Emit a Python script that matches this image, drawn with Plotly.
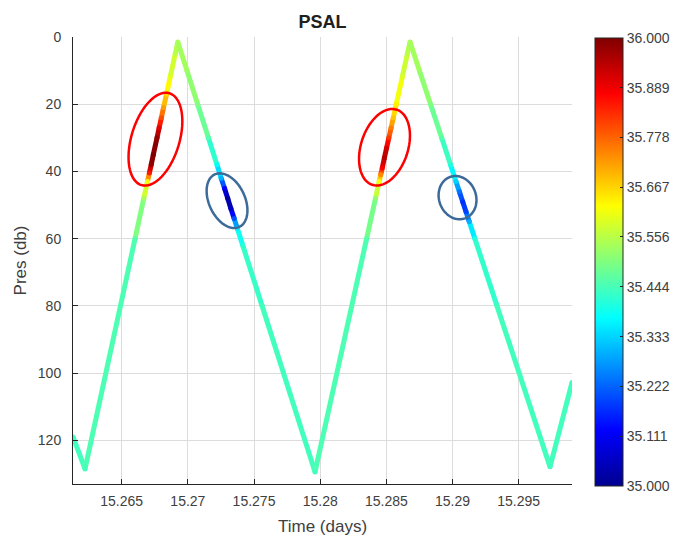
import numpy as np
import plotly.graph_objects as go
from plotly.colors import sample_colorscale

# Perfil: tempo (dias), pressão (db), salinidade (PSAL)
time_days = [
    15.26132, 15.26223,
    15.26601, 15.26667, 15.26695, 15.26709, 15.26723, 15.26739, 15.26767,
    15.26783, 15.26800, 15.26816, 15.26839, 15.26866, 15.26905, 15.26924,
    15.26993, 15.27074, 15.27155, 15.27220, 15.27252, 15.27277, 15.27301,
    15.27325, 15.27350, 15.27374, 15.27415, 15.27561, 15.27961,
    15.28351, 15.28418, 15.28446, 15.28457, 15.28469, 15.28485, 15.28502,
    15.28519, 15.28536, 15.28553, 15.28575, 15.28620, 15.28659, 15.28679,
    15.28750, 15.28834, 15.28918, 15.28985, 15.29026, 15.29052, 15.29077,
    15.29102, 15.29127, 15.29169, 15.29336, 15.29737, 15.29903,
]
pres_db = [
    119.0, 128.5,
    60.0, 48.0, 43.0, 40.5, 38.0, 35.0, 30.0,
    27.0, 24.0, 21.0, 17.0, 12.0, 5.0, 1.5,
    10.0, 20.0, 30.0, 38.0, 42.0, 45.0, 48.0,
    51.0, 54.0, 57.0, 62.0, 80.0, 129.4,
    60.0, 48.0, 43.0, 41.0, 39.0, 36.0, 33.0,
    30.0, 27.0, 24.0, 20.0, 12.0, 5.0, 1.5,
    10.0, 20.0, 30.0, 38.0, 43.0, 46.0, 49.0,
    52.0, 55.0, 60.0, 80.0, 127.9, 102.8,
]
psal = [
    35.44, 35.44,
    35.46, 35.54, 35.62, 35.85, 35.98, 36.00, 35.98,
    35.90, 35.80, 35.72, 35.66, 35.60, 35.56, 35.54,
    35.53, 35.50, 35.46, 35.38, 35.30, 35.12, 35.02,
    35.06, 35.20, 35.36, 35.42, 35.44, 35.44,
    35.46, 35.52, 35.62, 35.74, 35.88, 35.95, 35.92,
    35.82, 35.75, 35.68, 35.64, 35.59, 35.56, 35.54,
    35.53, 35.50, 35.46, 35.41, 35.33, 35.24, 35.17,
    35.19, 35.30, 35.41, 35.44, 35.44, 35.44,
]

x_tick_vals = [15.265, 15.27, 15.275, 15.28, 15.285, 15.29, 15.295]
x_tick_text = ["15.265", "15.27", "15.275", "15.28", "15.285", "15.29", "15.295"]
y_tick_vals = [0, 20, 40, 60, 80, 100, 120]
cb_tick_vals = [35.0, 35.111, 35.222, 35.333, 35.444, 35.556, 35.667, 35.778, 35.889, 36.0]
cb_tick_text = ["35.000", "35.111", "35.222", "35.333", "35.444",
                "35.556", "35.667", "35.778", "35.889", "36.000"]

# Elipses de destaque (centro em dados, semi-eixos em px, inclinação em graus)
ell_t = [15.26755, 15.27296, 15.28486, 15.29038]
ell_p = [30.4, 48.7, 32.8, 47.8]
ell_a = [48, 29, 39.5, 22]
ell_b = [24, 18, 23.5, 18.5]
ell_ang = [17, -25, 18, -20]
ell_col = ["#ff0000", "#3d6b99", "#ff0000", "#3d6b99"]

jet = [[0.0, "rgb(0,0,143)"], [0.125, "rgb(0,0,255)"], [0.375, "rgb(0,255,255)"],
       [0.625, "rgb(255,255,0)"], [0.875, "rgb(255,0,0)"], [1.0, "rgb(128,0,0)"]]
c_min, c_max = 35.0, 36.0
p_max = 133
W, H = 679, 543
margin = dict(l=73, r=107, t=37, b=59)
axis_col = "#262626"
font_fam = "Liberation Sans, Arial, sans-serif"

fig = go.Figure()

# Linha colorida: um segmento por par de pontos
for i in range(len(time_days) - 1):
    s_mid = (psal[i] + psal[i + 1]) / 2
    col = sample_colorscale(jet, [(s_mid - c_min) / (c_max - c_min)])[0]
    fig.add_trace(go.Scatter(
        x=time_days[i:i + 2], y=pres_db[i:i + 2], mode="lines",
        line=dict(color=col, width=5), hoverinfo="skip", showlegend=False))

# Vértices + barra de cores (x em coordenadas de container, sem empurrar margens)
fig.add_trace(go.Scatter(
    x=time_days, y=pres_db, mode="markers", showlegend=False,
    marker=dict(size=5, color=psal, colorscale=jet, cmin=c_min, cmax=c_max,
                line=dict(width=0),
                colorbar=dict(xref="container", x=595 / W, xanchor="left", xpad=0,
                              thickness=28, len=448, lenmode="pixels",
                              y=0.998, yanchor="top", ypad=0,
                              tickvals=cb_tick_vals, ticktext=cb_tick_text,
                              ticks="inside", ticklen=3, tickcolor=axis_col,
                              outlinecolor=axis_col, outlinewidth=1,
                              tickfont=dict(size=14, color="#404040"))),
))

# Elipses
plot_w = W - margin["l"] - margin["r"]
plot_h = H - margin["t"] - margin["b"]
px_t = plot_w / (max(time_days) - min(time_days))
px_p = plot_h / p_max
s = np.linspace(0, 2 * np.pi, 73)
for tc, pc, a, b, ang, col in zip(ell_t, ell_p, ell_a, ell_b, ell_ang, ell_col):
    th = np.radians(ang)
    dx = a * np.cos(s) * np.sin(th) + b * np.sin(s) * np.cos(th)
    dy = -a * np.cos(s) * np.cos(th) + b * np.sin(s) * np.sin(th)
    xs = tc + dx / px_t
    ys = pc + dy / px_p
    path = "M " + " L ".join(f"{x:.6f},{y:.4f}" for x, y in zip(xs, ys)) + " Z"
    fig.add_shape(type="path", path=path, xref="x", yref="y",
                  line=dict(color=col, width=2.5))

fig.update_xaxes(
    range=[min(time_days), max(time_days)], tickvals=x_tick_vals, ticktext=x_tick_text,
    ticks="inside", ticklen=5, tickcolor=axis_col, showline=True, linecolor=axis_col,
    linewidth=1, showgrid=True, gridcolor="#dcdcdc", zeroline=False, automargin=False,
    tickfont=dict(size=14, color="#404040"), ticklabelstandoff=4,
    title=dict(text="Time (days)", font=dict(size=17, color="#404040"), standoff=12),
)
fig.update_yaxes(
    range=[p_max, 0], tickvals=y_tick_vals, ticks="inside", ticklen=5, tickcolor=axis_col,
    showline=True, linecolor=axis_col, linewidth=1, showgrid=True, gridcolor="#dcdcdc",
    zeroline=False, automargin=False, tickfont=dict(size=14, color="#404040"),
    ticklabelstandoff=8,
    title=dict(text="Pres (db)", font=dict(size=17, color="#404040"), standoff=6),
)
fig.update_layout(
    width=W, height=H, margin=margin, plot_bgcolor="white", paper_bgcolor="white",
    font=dict(family=font_fam, color="#404040"),
    title=dict(text="<b>PSAL</b>", x=0.5, xref="paper", xanchor="center",
               y=1 - 21.5 / H, yref="container", yanchor="middle", automargin=False,
               font=dict(size=18, color="#202020")),
)

# Página sem margem do body, figura no tamanho exato da janela
fix_page = ("document.body.style.margin='0';document.body.style.overflow='hidden';"
            "Plotly.relayout('{plot_id}', {width: %d, height: %d});" % (W, H))
fig.write_html("out.html", post_script=fix_page, config={"displayModeBar": False})
